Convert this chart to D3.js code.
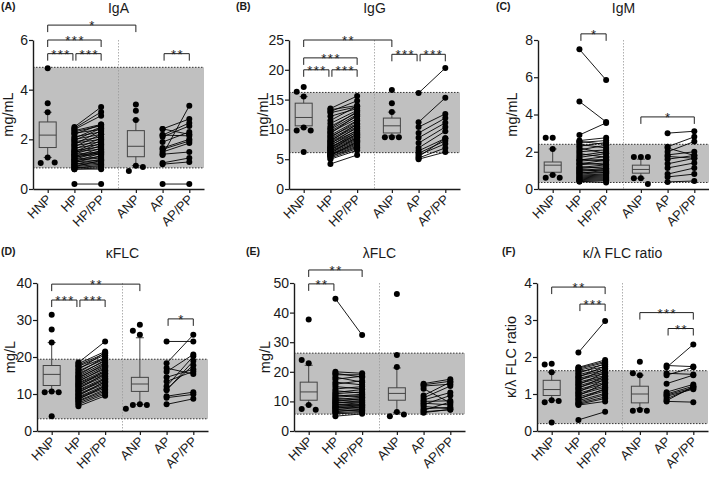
<!DOCTYPE html>
<html>
<head>
<meta charset="utf-8">
<script src="https://cdn.jsdelivr.net/npm/d3@7"></script>
<style>
  body { margin: 0; background: #fff; }
  svg { display: block; font-family: "Liberation Sans", Arial, sans-serif; }
</style>
</head>
<body>
<svg id="chart" width="709" height="477"></svg>
<script>
// groups along every x axis
const groups = ["HNP", "HP", "HP/PP", "ANP", "AP", "AP/PP"];

// box stats: [whisker low, q1, median, q3, whisker high]
// pairs: [before, after]
// sig brackets: [from group, to group, label, y value]

// (A) IgA
const iga_ticks = [0, 2, 4, 6];
const iga_band = [0.85, 4.9];
const iga_hnp_box = [1.27, 1.67, 2.17, 2.7, 3.09];
const iga_hnp_pts = [4.86, 3.45, 3.09, 1.27, 1.05, 1.07];
const iga_anp_box = [0.94, 1.3, 1.72, 2.35, 2.78];
const iga_anp_pts = [3.4, 3.15, 2.78, 0.94, 0.72, 0.89];
const iga_hp = [[2.5,3.3],[2.45,3.1],[2.4,2.95],[2.35,2.6],[2.3,2.55],[2.25,2.4],[2.2,2.6],[2.1,2.3],[2.05,2.5],[2.0,2.2],
  [1.95,2.45],[1.9,2.1],[1.85,2.0],[1.8,2.35],[1.75,1.9],[1.7,2.2],[1.65,1.8],[1.6,2.05],[1.55,1.7],[1.5,1.95],
  [1.5,1.6],[1.45,1.85],[1.4,1.5],[1.4,1.75],[1.35,1.45],[1.3,1.65],[1.3,1.4],[1.25,1.55],[1.2,1.3],[1.2,1.5],
  [1.15,1.25],[1.1,1.45],[1.1,1.15],[1.05,1.35],[1.0,1.1],[1.0,1.2],[0.95,1.05],[0.9,1.0],[0.9,1.15],[0.85,0.95],
  [0.85,0.9],[0.8,0.85],[0.8,0.8],[0.2,0.2]];
const iga_ap = [[2.42,2.82],[2.42,2.2],[2.17,2.66],[2.17,2.14],[2.1,2.54],[1.89,2.3],[1.65,2.0],[1.6,1.93],
  [1.49,1.85],[1.37,3.35],[1.4,1.49],[1.05,1.25],[1.0,1.09],[0.2,0.2]];
const iga_sig = [[0,3,"*",6.6],[0,2,"***",6.0],[0,1,"***",5.45],[1,2,"***",5.45],[4,5,"**",5.45]];

// (B) IgG
const igg_ticks = [0, 5, 10, 15, 20, 25];
const igg_band = [6.1, 16.2];
const igg_hnp_box = [10.3, 10.6, 12.0, 14.4, 15.5];
const igg_hnp_pts = [17.1, 16.3, 15.5, 10.3, 9.8, 9.8, 6.2];
const igg_anp_box = [8.9, 9.4, 10.6, 11.9, 12.9];
const igg_anp_pts = [16.6, 14.4, 12.9, 8.7, 8.7, 8.7];
const igg_hp = [[13.5,15.6],[13.3,14.0],[13.0,14.8],[12.8,13.8],[12.2,13.5],[11.5,13.9],[11.0,13.2],[10.5,12.8],[10.2,13.0],[10.0,12.5],
  [9.7,12.2],[9.5,11.8],[9.3,12.4],[9.0,11.5],[8.8,11.0],[8.6,11.4],[8.4,10.8],[8.2,10.5],[8.0,10.9],[7.9,10.2],
  [7.7,9.8],[7.6,10.4],[7.4,9.5],[7.3,9.9],[7.1,9.2],[7.0,9.0],[6.9,9.6],[6.8,8.8],[6.6,8.6],[6.5,9.3],
  [6.4,8.4],[6.3,8.2],[6.1,8.0],[6.0,8.7],[5.9,7.8],[5.8,7.6],[5.7,7.4],[5.6,7.9],[5.5,7.2],[5.4,7.0],
  [5.2,6.8],[5.0,6.5],[4.2,5.7]];
const igg_ap = [[16.1,20.3],[11.2,15.3],[10.4,12.6],[9.4,11.9],[8.6,11.1],[7.7,10.4],[6.9,9.7],[6.4,8.5],
  [6.0,8.1],[5.7,7.6],[5.4,8.5],[5.2,6.9],[5.0,6.2]];
const igg_sig = [[0,3,"**",25],[0,2,"***",22],[0,1,"***",20],[1,2,"***",20],[3,4,"***",22.6],[4,5,"***",22.6]];

// (C) IgM
const igm_ticks = [0, 2, 4, 6, 8];
const igm_band = [0.35, 2.4];
const igm_hnp_box = [0.75, 0.9, 1.28, 1.45, 2.15];
const igm_hnp_pts = [2.75, 2.75, 2.15, 0.75, 0.6, 0.6];
const igm_anp_box = [0.58, 0.85, 1.05, 1.28, 1.6];
const igm_anp_pts = [1.72, 1.72, 1.72, 0.58, 0.58, 0.27];
const igm_hp = [[7.5,5.85],[4.7,3.6],[2.9,3.55],[2.6,2.75],[2.55,2.4],[2.5,2.6],[2.4,2.2],[2.3,2.5],[2.2,1.9],[2.1,2.35],
  [2.0,2.1],[1.9,1.7],[1.8,2.0],[1.7,1.9],[1.6,1.5],[1.55,1.75],[1.5,1.6],[1.4,1.3],[1.35,1.55],[1.3,1.4],
  [1.2,1.1],[1.15,1.3],[1.1,1.2],[1.05,0.95],[1.0,1.1],[0.95,1.05],[0.9,0.85],[0.85,1.0],[0.8,0.9],[0.75,0.8],
  [0.7,0.75],[0.65,0.7],[0.6,0.65],[0.55,0.6],[0.5,0.55],[0.45,0.5],[0.4,0.45],[0.4,0.35]];
const igm_ap = [[3.0,3.1],[2.27,2.8],[2.2,1.8],[2.0,2.55],[1.83,2.0],[1.75,1.65],[1.6,1.8],[1.35,1.65],
  [1.13,1.4],[0.8,1.13],[0.65,0.8],[0.38,0.43]];
const igm_sig = [[1,2,"*",8.33],[3,5,"*",3.87]];

// (D) kappa FLC
const kap_ticks = [0, 10, 20, 30, 40];
const kap_band = [3.3, 19.4];
const kap_hnp_box = [10.7, 12.3, 15.3, 17.7, 23.9];
const kap_hnp_pts = [31.4, 27.4, 23.9, 10.7, 10.5, 10.5, 4.0];
const kap_anp_box = [7.2, 10.7, 12.7, 14.5, 25.2];
const kap_anp_pts = [26.0, 27.1, 28.7, 7.2, 7.0, 7.0, 6.0];
const kap_hp = [[18.5,24.2],[18.2,21.5],[17.8,21.0],[17.5,20.5],[17.0,19.8],[16.6,21.2],[16.2,19.5],[15.8,20.0],[15.5,18.9],[15.1,19.2],
  [14.8,18.5],[14.5,17.8],[14.2,18.2],[13.9,17.5],[13.6,16.8],[13.3,17.2],[13.0,16.4],[12.8,16.0],[12.5,15.6],[12.2,16.2],
  [12.0,15.2],[11.7,14.8],[11.4,15.5],[11.1,14.4],[10.9,14.0],[10.6,13.6],[10.3,14.2],[10.0,13.2],[9.8,12.8],[9.5,13.4],
  [9.2,12.4],[9.0,12.0],[8.8,11.6],[8.5,12.2],[8.2,11.2],[8.0,10.8],[7.6,10.4],[7.2,10.0],[6.7,9.5]];
const kap_ap = [[24.2,24.2],[18.3,26.0],[17.0,15.4],[16.0,20.7],[14.5,16.7],[13.4,16.1],[12.1,20.2],[11.3,17.8],
  [11.0,18.9],[9.4,10.5],[9.0,9.9],[7.2,8.7]];
const kap_sig = [[0,3,"**",39.7],[0,1,"***",35.4],[1,2,"***",35.4],[4,5,"*",30.3]];

// (E) lambda FLC
const lam_ticks = [0, 10, 20, 30, 40, 50];
const lam_band = [5.7, 26.3];
const lam_hnp_box = [8.8, 10.4, 13.2, 16.5, 22.2];
const lam_hnp_pts = [37.7, 22.9, 24.0, 8.8, 7.4, 7.2];
const lam_anp_box = [6.3, 10.4, 12.7, 14.6, 21.3];
const lam_anp_pts = [46.3, 25.7, 21.6, 6.4, 5.0, 5.6];
const lam_hp = [[44.7,32.4],[20.0,19.5],[19.5,18.2],[19.0,19.0],[18.2,16.5],[17.5,18.5],[16.5,15.6],[15.8,17.0],[15.0,14.2],[14.2,15.0],
  [13.6,12.8],[13.0,14.0],[12.6,13.2],[12.2,11.5],[11.8,12.4],[11.4,12.0],[11.0,10.5],[10.6,11.4],[10.3,10.0],[10.0,11.0],
  [9.7,9.5],[9.4,10.3],[9.1,8.8],[8.8,9.6],[8.5,8.5],[8.2,9.0],[8.0,8.0],[7.7,8.6],[7.4,7.5],[7.1,8.2],
  [6.8,7.0],[6.5,7.4],[6.2,6.6],[5.8,6.2],[5.0,5.8]];
const lam_ap = [[16.0,17.5],[15.6,16.8],[15.2,15.8],[14.3,9.5],[12.0,16.5],[11.2,15.2],[10.5,13.0],[10.0,10.2],
  [9.4,8.8],[8.9,12.0],[8.3,7.5],[7.5,8.0],[7.0,9.8],[6.5,7.2],[6.2,7.3]];
const lam_sig = [[0,2,"**",54.4],[0,1,"**",49.7]];

// (F) kappa/lambda ratio
const rat_ticks = [0, 1, 2, 3, 4];
const rat_band = [0.2, 1.63];
const rat_hnp_box = [0.83, 0.96, 1.12, 1.37, 1.59];
const rat_hnp_pts = [1.82, 1.8, 1.59, 0.83, 0.78, 0.81, 0.23];
const rat_anp_box = [0.6, 0.76, 1.0, 1.21, 1.51];
const rat_anp_pts = [1.87, 1.51, 1.56, 0.57, 0.55, 0.55];
const rat_hp = [[2.12,2.97],[1.72,1.92],[1.7,1.88],[1.67,1.85],[1.64,1.8],[1.6,1.74],[1.56,1.82],[1.52,1.7],[1.48,1.65],[1.45,1.76],
  [1.42,1.6],[1.38,1.56],[1.35,1.68],[1.32,1.5],[1.28,1.46],[1.25,1.58],[1.22,1.42],[1.18,1.38],[1.15,1.48],[1.12,1.32],
  [1.08,1.28],[1.05,1.4],[1.02,1.22],[0.98,1.18],[0.95,1.3],[0.92,1.12],[0.88,1.08],[0.85,1.15],[0.82,1.02],[0.78,0.98],
  [0.75,0.92],[0.72,0.88],[0.7,0.8],[0.3,0.52]];
const rat_ap = [[1.77,1.74],[1.72,2.34],[1.56,1.53],[1.51,1.72],[1.28,1.51],[1.05,1.26],[1.0,1.21],[0.97,1.17],
  [0.94,1.13],[0.87,1.17],[0.82,1.2],[0.8,0.78]];
const rat_sig = [[0,2,"**",3.89],[1,2,"***",3.43],[3,5,"***",3.2],[4,5,"**",2.77]];

const panels = [
  {tag: "(A)", title: "IgA", unit: "mg/mL", ticks: iga_ticks, band: iga_band, hnpBox: iga_hnp_box, hnpPts: iga_hnp_pts, anpBox: iga_anp_box, anpPts: iga_anp_pts, hp: iga_hp, ap: iga_ap, sig: iga_sig},
  {tag: "(B)", title: "IgG", unit: "mg/mL", ticks: igg_ticks, band: igg_band, hnpBox: igg_hnp_box, hnpPts: igg_hnp_pts, anpBox: igg_anp_box, anpPts: igg_anp_pts, hp: igg_hp, ap: igg_ap, sig: igg_sig},
  {tag: "(C)", title: "IgM", unit: "mg/mL", ticks: igm_ticks, band: igm_band, hnpBox: igm_hnp_box, hnpPts: igm_hnp_pts, anpBox: igm_anp_box, anpPts: igm_anp_pts, hp: igm_hp, ap: igm_ap, sig: igm_sig},
  {tag: "(D)", title: "κFLC", unit: "mg/L", ticks: kap_ticks, band: kap_band, hnpBox: kap_hnp_box, hnpPts: kap_hnp_pts, anpBox: kap_anp_box, anpPts: kap_anp_pts, hp: kap_hp, ap: kap_ap, sig: kap_sig},
  {tag: "(E)", title: "λFLC", unit: "mg/L", ticks: lam_ticks, band: lam_band, hnpBox: lam_hnp_box, hnpPts: lam_hnp_pts, anpBox: lam_anp_box, anpPts: lam_anp_pts, hp: lam_hp, ap: lam_ap, sig: lam_sig},
  {tag: "(F)", title: "κ/λ FLC ratio", unit: "κ/λ FLC ratio", ticks: rat_ticks, band: rat_band, hnpBox: rat_hnp_box, hnpPts: rat_hnp_pts, anpBox: rat_anp_box, anpPts: rat_anp_pts, hp: rat_hp, ap: rat_ap, sig: rat_sig}
];

// layout
const slots = [0, 1, 2, 3.3, 4.3, 5.3];
const axisLeft = [33, 289, 538, 37, 294, 537];
const unitX = [9, 264, 513, 11, 266, 512];
const tagX = [1, 236, 496, 1, 246, 502];
const rowTop = [40, 283], rowBottom = [189, 431];
const titleY = [13, 258];
const plotW = 171;
const ink = "#1a1a1a";

const svg = d3.select("#chart");

function swarm(vals, y, cx) {
  // spread dots that would sit on top of each other
  const placed = [];
  const tries = [0, -7, 7, -14, 14];
  return vals.map(v => {
    const py = y(v);
    let ox = 0;
    for (const t of tries) {
      if (placed.every(p => Math.hypot(p[0] - t, p[1] - py) >= 6)) { ox = t; break; }
    }
    placed.push([ox, py]);
    return [cx + ox, py];
  });
}

function drawPanel(p, i) {
  const row = Math.floor(i / 3);
  const left = axisLeft[i];
  const top = rowTop[row], bottom = rowBottom[row];
  const x = d3.scaleLinear().domain([-0.55, 5.85]).range([left, left + plotW]);
  const y = d3.scaleLinear().domain([0, d3.max(p.ticks)]).range([bottom, top]);
  const g = svg.append("g");

  // reference range band
  g.append("rect")
    .attr("x", left).attr("y", y(p.band[1]))
    .attr("width", plotW).attr("height", y(p.band[0]) - y(p.band[1]))
    .attr("fill", "#c0c0c0");
  g.selectAll(".bandline").data(p.band).enter().append("line")
    .attr("x1", left).attr("x2", left + plotW)
    .attr("y1", d => y(d)).attr("y2", d => y(d))
    .attr("stroke", "#333").attr("stroke-width", 1).attr("stroke-dasharray", "1.5,1.5");

  // divider between the two cohorts
  g.append("line")
    .attr("x1", x(2.65)).attr("x2", x(2.65))
    .attr("y1", top).attr("y2", bottom)
    .attr("stroke", "#9a9a9a").attr("stroke-width", 0.8).attr("stroke-dasharray", "1.5,1.5");

  // box plots
  [[p.hnpBox, p.hnpPts, slots[0]], [p.anpBox, p.anpPts, slots[3]]].forEach(([b, pts, s]) => {
    const cx = x(s), bw = 8.5, cw = 4;
    const bg = g.append("g").attr("stroke", "#444").attr("stroke-width", 1).attr("fill", "none");
    bg.append("line").attr("x1", cx).attr("x2", cx).attr("y1", y(b[0])).attr("y2", y(b[1]));
    bg.append("line").attr("x1", cx).attr("x2", cx).attr("y1", y(b[3])).attr("y2", y(b[4]));
    bg.append("line").attr("x1", cx - cw).attr("x2", cx + cw).attr("y1", y(b[0])).attr("y2", y(b[0]));
    bg.append("line").attr("x1", cx - cw).attr("x2", cx + cw).attr("y1", y(b[4])).attr("y2", y(b[4]));
    bg.append("rect").attr("x", cx - bw).attr("y", y(b[3])).attr("width", bw * 2).attr("height", y(b[1]) - y(b[3]));
    bg.append("line").attr("x1", cx - bw).attr("x2", cx + bw).attr("y1", y(b[2])).attr("y2", y(b[2]));
    g.selectAll(null).data(swarm(pts, y, cx)).enter().append("circle")
      .attr("cx", d => d[0]).attr("cy", d => d[1]).attr("r", 3).attr("fill", "#000");
  });

  // paired samples
  [[p.hp, 1, 2], [p.ap, 4, 5]].forEach(([pairs, a, b]) => {
    g.selectAll(null).data(pairs).enter().append("line")
      .attr("x1", x(slots[a])).attr("x2", x(slots[b]))
      .attr("y1", d => y(d[0])).attr("y2", d => y(d[1]))
      .attr("stroke", "#000").attr("stroke-width", 0.9);
    g.selectAll(null).data(pairs.flatMap(d => [[slots[a], d[0]], [slots[b], d[1]]])).enter().append("circle")
      .attr("cx", d => x(d[0])).attr("cy", d => y(d[1])).attr("r", 3).attr("fill", "#000");
  });

  // axes
  const ya = g.append("g").attr("transform", `translate(${left},0)`)
    .call(d3.axisLeft(y).tickValues(p.ticks).tickFormat(d => String(d)).tickSize(4).tickSizeOuter(0).tickPadding(1));
  ya.selectAll("text").attr("font-size", 14).attr("fill", ink).attr("font-family", "Liberation Sans, Arial, sans-serif");

  const xa = g.append("g").attr("transform", `translate(0,${bottom})`)
    .call(d3.axisBottom(x).tickValues(slots).tickFormat((d, k) => groups[k]).tickSize(4).tickSizeOuter(0));
  xa.selectAll("text")
    .attr("x", 0).attr("y", 0).attr("dy", 0)
    .attr("transform", "translate(4,11) rotate(-45)")
    .attr("text-anchor", "end").attr("font-size", 13).attr("fill", ink)
    .attr("font-family", "Liberation Sans, Arial, sans-serif");
  [ya, xa].forEach(a => {
    a.select(".domain").attr("stroke", ink).attr("stroke-width", 1.4);
    a.selectAll(".tick line").attr("stroke", ink).attr("stroke-width", 1.2);
  });

  // significance brackets
  p.sig.forEach(([a, b, lab, v]) => {
    const x1 = x(slots[a]) + (a === 1 || a === 4 ? 1.5 : 0);
    const x2 = x(slots[b]) - (b === 1 || b === 4 ? 1.5 : 0);
    const yy = y(v);
    g.append("path")
      .attr("d", `M${x1},${yy + 7}V${yy}H${x2}V${yy + 7}`)
      .attr("fill", "none").attr("stroke", "#222").attr("stroke-width", 1);
    g.append("text")
      .attr("x", (x1 + x2) / 2 + 0.75).attr("y", yy + 5)
      .attr("text-anchor", "middle").attr("font-size", 13)
      .attr("letter-spacing", 1.5).attr("fill", "#222")
      .text(lab);
  });

  // titles and labels
  svg.append("text")
    .attr("x", tagX[i]).attr("y", titleY[row] - 3)
    .attr("font-size", 10.5).attr("font-weight", "bold").attr("fill", ink)
    .text(p.tag);
  svg.append("text")
    .attr("x", left + plotW / 2).attr("y", titleY[row])
    .attr("text-anchor", "middle").attr("font-size", 14).attr("fill", ink)
    .text(p.title);
  svg.append("text")
    .attr("transform", `translate(${unitX[i]},${(top + bottom) / 2}) rotate(-90)`)
    .attr("text-anchor", "middle").attr("dy", "0.25em")
    .attr("font-size", 14.5).attr("fill", ink)
    .text(p.unit);
}

panels.forEach(drawPanel);
</script>
</body>
</html>
